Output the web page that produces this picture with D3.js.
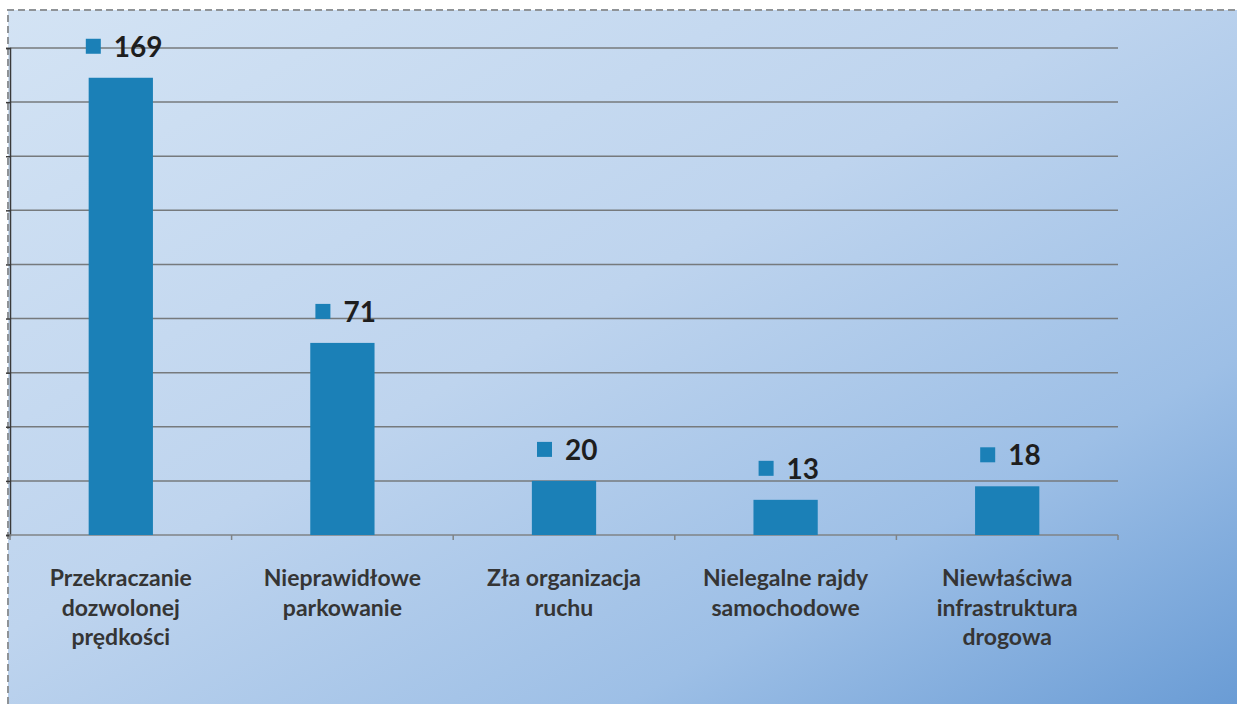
<!DOCTYPE html>
<html>
<head>
<meta charset="utf-8">
<script src="https://cdn.jsdelivr.net/npm/d3@7"></script>
<style>
  html, body { margin: 0; padding: 0; background: #ffffff; }
  svg { display: block; }
</style>
</head>
<body>
<div id="chart"></div>
<script>
const categories = [
  ["Przekraczanie", "dozwolonej", "prędkości"],
  ["Nieprawidłowe", "parkowanie"],
  ["Zła organizacja", "ruchu"],
  ["Nielegalne rajdy", "samochodowe"],
  ["Niewłaściwa", "infrastruktura", "drogowa"]
];
const values = [169, 71, 20, 13, 18];
const yTicks = [0, 20, 40, 60, 80, 100, 120, 140, 160, 180];

const width = 1237;
const height = 704;
const margin = { top: 48, right: 119, bottom: 169, left: 10 };
const barColor = "#1b80b7";

const svg = d3.select("#chart")
  .append("svg")
  .attr("width", width)
  .attr("height", height);

// background gradient
const defs = svg.append("defs");
const grad = defs.append("linearGradient")
  .attr("id", "bg")
  .attr("x1", "0%").attr("y1", "0%")
  .attr("x2", "100%").attr("y2", "100%");
grad.append("stop").attr("offset", "0%").attr("stop-color", "#d3e3f4");
grad.append("stop").attr("offset", "45%").attr("stop-color", "#bed4ee");
grad.append("stop").attr("offset", "75%").attr("stop-color", "#9dbfe6");
grad.append("stop").attr("offset", "100%").attr("stop-color", "#6a9cd5");

svg.append("rect")
  .attr("x", 8).attr("y", 10)
  .attr("width", width - 8).attr("height", height - 10)
  .attr("fill", "url(#bg)");

// dashed frame (top and left edges only visible)
svg.append("path")
  .attr("d", `M8,${height} L8,10 L${width},10`)
  .attr("fill", "none")
  .attr("stroke", "#8f9397")
  .attr("stroke-width", 2)
  .attr("stroke-dasharray", "7,4");

const x = d3.scaleBand()
  .domain(d3.range(values.length))
  .range([margin.left, width - margin.right])
  .paddingInner(0.71)
  .paddingOuter(0.355);

const y = d3.scaleLinear()
  .domain([0, 180])
  .range([height - margin.bottom, margin.top]);

// gridlines
svg.append("g")
  .selectAll("line")
  .data(yTicks.slice(1))
  .enter()
  .append("line")
  .attr("x1", margin.left)
  .attr("x2", width - margin.right)
  .attr("y1", d => y(d))
  .attr("y2", d => y(d))
  .attr("stroke", "#767a7d")
  .attr("stroke-width", 1.5);

// y axis (no labels visible)
const yAxis = svg.append("g")
  .attr("transform", `translate(${margin.left},0)`)
  .call(d3.axisLeft(y).tickValues(yTicks).tickSize(4).tickFormat(""));
yAxis.selectAll("path, line").attr("stroke", "#3a3a3a").attr("stroke-width", 1.5);

// x axis baseline with ticks between categories
const xAxis = svg.append("g")
  .attr("transform", `translate(0,${y(0)})`);
xAxis.append("line")
  .attr("x1", margin.left)
  .attr("x2", width - margin.right)
  .attr("stroke", "#7f8386")
  .attr("stroke-width", 1.5);
xAxis.selectAll(".tick")
  .data(d3.range(values.length + 1))
  .enter()
  .append("line")
  .attr("class", "tick")
  .attr("x1", i => margin.left + i * (width - margin.left - margin.right) / values.length)
  .attr("x2", i => margin.left + i * (width - margin.left - margin.right) / values.length)
  .attr("y1", 0)
  .attr("y2", 5)
  .attr("stroke", "#7f8386")
  .attr("stroke-width", 1.5);

// bars
svg.append("g")
  .selectAll("rect")
  .data(values)
  .enter()
  .append("rect")
  .attr("x", (d, i) => x(i))
  .attr("y", d => y(d))
  .attr("width", x.bandwidth())
  .attr("height", d => y(0) - y(d))
  .attr("fill", barColor);

// value labels with small square marker
const labels = svg.append("g")
  .selectAll("g")
  .data(values)
  .enter()
  .append("g")
  .attr("transform", (d, i) => `translate(${x(i) + x.bandwidth() / 2 + 3},${y(d) - 31})`);

labels.append("text")
  .attr("x", d => -String(d).length * 8 + 14)
  .attr("y", 0)
  .attr("dy", "0.36em")
  .attr("font-family", "Lato, 'Open Sans', sans-serif")
  .attr("font-size", "28px")
  .attr("font-weight", "bold")
  .attr("fill", "#1e1e1e")
  .text(d => d);

labels.append("rect")
  .attr("x", d => -String(d).length * 8 - 14)
  .attr("y", -8)
  .attr("width", 15)
  .attr("height", 15)
  .attr("fill", barColor);

// category labels
const cat = svg.append("g")
  .selectAll("text")
  .data(categories)
  .enter()
  .append("text")
  .attr("x", (d, i) => x(i) + x.bandwidth() / 2)
  .attr("y", y(0) + 51)
  .attr("text-anchor", "middle")
  .attr("font-family", "Lato, 'Open Sans', sans-serif")
  .attr("font-size", "23px")
  .attr("font-weight", "bold")
  .attr("fill", "#353535");

cat.selectAll("tspan")
  .data(d => d)
  .enter()
  .append("tspan")
  .attr("x", function () { return d3.select(this.parentNode).attr("x"); })
  .attr("dy", (d, i) => i === 0 ? 0 : 29.5)
  .text(d => d);
</script>
</body>
</html>
